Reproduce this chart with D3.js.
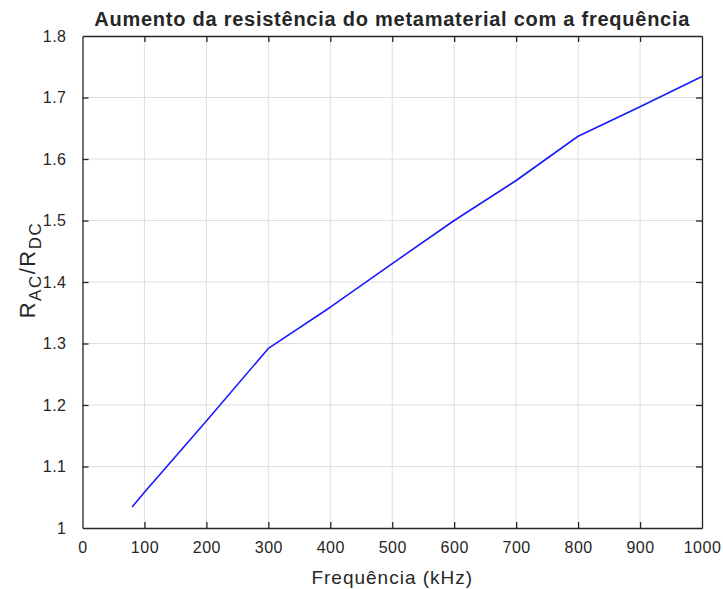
<!DOCTYPE html>
<html>
<head>
<meta charset="utf-8">
<script src="https://cdn.jsdelivr.net/npm/d3@7"></script>
<style>
body { margin: 0; background: #fff; }
text { font-family: "Liberation Sans", Arial, sans-serif; fill: #262626; }
</style>
</head>
<body>
<script>
// data
const freq = [80, 100, 200, 300, 400, 500, 600, 700, 800, 900, 1000]
const ratio = [1.034, 1.058, 1.174, 1.292, 1.359, 1.430, 1.500, 1.565, 1.637, 1.685, 1.734]
const xTicks = [0, 100, 200, 300, 400, 500, 600, 700, 800, 900, 1000]
const yTicks = [1, 1.1, 1.2, 1.3, 1.4, 1.5, 1.6, 1.7, 1.8]

const w = 723
const h = 589
const m = {left: 82.5, right: 21, top: 36, bottom: 61}

const svg = d3.select("body").append("svg").attr("width", w).attr("height", h)

const x = d3.scaleLinear().domain([0, 1000]).range([m.left, w - m.right])
const y = d3.scaleLinear().domain([1, 1.8]).range([h - m.bottom, m.top])

// grid
svg.append("g").selectAll("line").data(xTicks.slice(1, -1)).enter().append("line")
  .attr("x1", d => x(d)).attr("x2", d => x(d)).attr("y1", y(1)).attr("y2", y(1.8))
  .attr("stroke", "#dfdfdf").attr("stroke-width", 1)
svg.append("g").selectAll("line").data(yTicks.slice(1, -1)).enter().append("line")
  .attr("y1", d => y(d)).attr("y2", d => y(d)).attr("x1", x(0)).attr("x2", x(1000))
  .attr("stroke", "#dfdfdf").attr("stroke-width", 1)

// axes, ticks inward, box on
const tl = 6
const styleAxis = g => {
  g.select(".domain").attr("stroke", "#262626").attr("stroke-width", 1.3)
  g.selectAll(".tick line").attr("stroke", "#262626").attr("stroke-width", 1.3)
  g.selectAll("text").attr("font-size", 16).attr("fill", "#333").style("letter-spacing", "0.5px")
}
svg.append("g").attr("transform", "translate(0," + y(1) + ")")
  .call(d3.axisBottom(x).tickValues(xTicks).tickSizeInner(-tl).tickSizeOuter(0).tickPadding(14).tickFormat(d3.format("d")))
  .call(styleAxis)
svg.append("g").attr("transform", "translate(0," + y(1.8) + ")")
  .call(d3.axisTop(x).tickValues(xTicks).tickSizeInner(-tl).tickSizeOuter(0).tickFormat(""))
  .call(styleAxis)
svg.append("g").attr("transform", "translate(" + x(0) + ",0)")
  .call(d3.axisLeft(y).tickValues(yTicks).tickSizeInner(-tl).tickSizeOuter(0).tickPadding(16).tickFormat(d => d === 1 ? "1" : d3.format(".1f")(d)))
  .call(styleAxis)
svg.append("g").attr("transform", "translate(" + x(1000) + ",0)")
  .call(d3.axisRight(y).tickValues(yTicks).tickSizeInner(-tl).tickSizeOuter(0).tickFormat(""))
  .call(styleAxis)
svg.selectAll(".tick").filter(d => d === 0 || d === 1000 || d === 1 || d === 1.8).select("line").attr("stroke", "none")

// series
const line = d3.line().x((d, i) => x(freq[i])).y(d => y(d))
svg.append("path").datum(ratio).attr("d", line)
  .attr("fill", "none").attr("stroke", "#1a1aff").attr("stroke-width", 1.6).attr("stroke-linejoin", "round")

// title and labels
svg.append("text").attr("x", (x(0) + x(1000)) / 2).attr("y", 26).attr("text-anchor", "middle")
  .attr("font-size", 20).attr("font-weight", "bold").attr("fill", "#000").style("letter-spacing", "0.75px")
  .text("Aumento da resistência do metamaterial com a frequência")

svg.append("text").attr("x", (x(0) + x(1000)) / 2).attr("y", 584).attr("text-anchor", "middle")
  .attr("font-size", 19).style("letter-spacing", "1px").text("Frequência (kHz)")

const yl = svg.append("text").attr("transform", "translate(35," + 270 + ") rotate(-90)")
  .attr("text-anchor", "middle").attr("font-size", 22).style("letter-spacing", "1.5px")
yl.append("tspan").text("R")
yl.append("tspan").attr("font-size", 17).attr("dy", 6).text("AC")
yl.append("tspan").attr("dy", -6).text("/R")
yl.append("tspan").attr("font-size", 17).attr("dy", 6).text("DC")
</script>
</body>
</html>
